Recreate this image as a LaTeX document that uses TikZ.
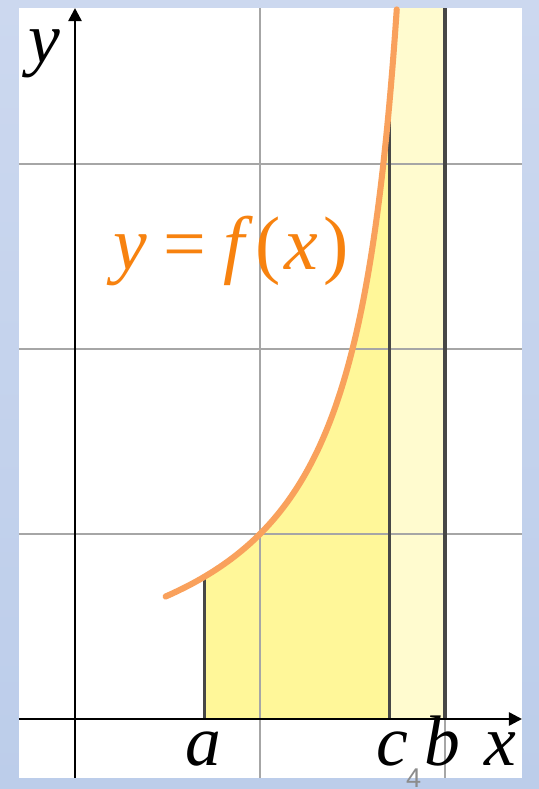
\documentclass[tikz,border=0pt]{standalone}
\usepackage{fontspec}
\setmainfont{Liberation Serif}
\newfontfamily\numfont{Liberation Sans}
\usetikzlibrary{arrows.meta}
\definecolor{bgtop}{HTML}{CCD8EF}
\definecolor{bgmid}{HTML}{AFC3E6}
\definecolor{bgbot}{HTML}{BCCDEA}
\definecolor{curveor}{HTML}{F9A15C}
\definecolor{labor}{HTML}{F7820F}
\definecolor{fillA}{HTML}{FFF799}
\definecolor{fillB}{HTML}{FFFBCF}
\definecolor{gridc}{HTML}{A6A6A6}
\definecolor{vline}{HTML}{474747}
\definecolor{pagenum}{HTML}{8C8C8C}
\begin{document}
\begin{tikzpicture}[x=3cm,y=3cm,
  gridline/.style={gridc,line width=0.7pt},
  axisline/.style={black,line width=1.15pt,-{Triangle[length=6pt,width=6pt]}},
  boundline/.style={vline,line width=1.6pt},
  lbl/.style={anchor=base,inner sep=0pt,font=\fontsize{33}{36}\selectfont\itshape},
  declare function={f(\t)=1/(2-\t);}]
\useasboundingbox (-0.4054,-0.3784) rectangle (2.5081,3.8865);
\shade[top color=bgtop,middle color=bgmid,bottom color=bgbot] (-0.4054,-0.3784) rectangle (2.5081,3.8865);
\fill[white] (-0.3027,-0.3189) rectangle (2.4162,3.8432);
% fills
\fill[fillA] (0.7,0) -- plot[domain=0.7:1.7,samples=60,smooth] (\x,{f(\x)}) -- (1.7,0) -- cycle;
\fill[fillB] (1.7,0) -- plot[domain=1.7:1.7398,samples=20,smooth] (\x,{f(\x)}) -- (2,3.8432) -- (2,0) -- cycle;
% grid
\foreach \gx in {1,2} \draw[gridline] (\gx,-0.3189) -- (\gx,3.8432);
\foreach \gy in {1,2,3} \draw[gridline] (-0.3027,\gy) -- (2.4162,\gy);
% bounds
\coordinate (a0) at (0.7,0); \coordinate (a1) at (0.7,{f(0.7)});
\coordinate (c0) at (1.7,0); \coordinate (c1) at (1.7,{f(1.7)});
\coordinate (b0) at (2,0); \coordinate (b1) at (2,3.8432);
\draw[boundline] (a0) -- (a1);
\draw[boundline] (c0) -- (c1);
\draw[boundline] (b0) -- (b1);
% curve
\draw[curveor,line width=2.8pt,line cap=round] plot[domain=0.49:1.7398,samples=120,smooth] (\x,{f(\x)});
% axes
\coordinate (xs) at (-0.3027,0); \coordinate (xe) at (2.4162,0);
\coordinate (ys) at (0,-0.3189); \coordinate (ye) at (0,3.8432);
\draw[axisline] (xs) -- (xe);
\draw[axisline] (ys) -- (ye);
% labels
\node[lbl] (la) at (0.692,-0.249) {a};
\node[lbl] (lc) at (1.714,-0.249) {c};
\node[lbl] (lb) at (1.984,-0.249) {b};
\node[lbl] (lx) at (2.297,-0.249) {x};
\node[lbl] (ly) at (-0.168,3.546) {y};
\node[lbl,text=labor,font=\fontsize{35}{38}\selectfont\itshape] (lf) at (0.843,2.43) {y\hspace{0.22em}\upshape=\hspace{0.22em}\itshape f\hspace{0.14em}\upshape(\hspace{0.06em}\itshape x\hspace{0.06em}\upshape)};
\node[text=pagenum,inner sep=0pt,anchor=base,font=\numfont\fontsize{12.5}{13}\selectfont] (pg) at (1.83,-0.3713) {4};
\end{tikzpicture}
\end{document}
